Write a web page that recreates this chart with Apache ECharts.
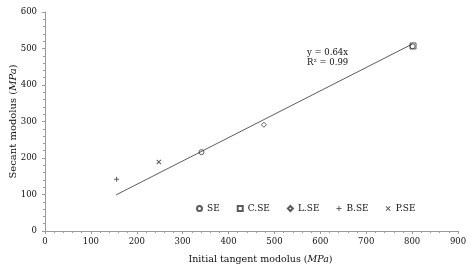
<!DOCTYPE html>
<html>
<head>
<meta charset="utf-8">
<script src="https://cdn.jsdelivr.net/npm/echarts@6/dist/echarts.min.js"></script>
<style>
  html, body { margin: 0; padding: 0; background: #fff; }
  #chart { width: 474px; height: 270px; }
</style>
</head>
<body>
<div id="chart"></div>
<script>
// data
var seData = [[341, 216], [801, 506]];
var cseData = [[802, 507]];
var lseData = [[477, 291]];
var bseData = [[156, 142]];
var pseData = [[248, 189]];
var trendData = [[155, 99], [800, 512]];

var fontFam = "DejaVu Serif";
var plusPath = "path://M4,0H6V4H10V6H6V10H4V6H0V4H4Z";
var crossPath = "path://M1.4,0L5,3.6L8.6,0L10,1.4L6.4,5L10,8.6L8.6,10L5,6.4L1.4,10L0,8.6L3.6,5L0,1.4Z";

var myChart = echarts.init(document.getElementById("chart"));

var options = {
  animation: false,
  textStyle: { fontFamily: fontFam },
  grid: { left: 45, right: 16, top: 12, bottom: 39, outerBoundsMode: "none" },
  legend: {
    left: 191,
    top: 199,
    itemWidth: 5,
    itemHeight: 5,
    itemGap: 17,
    textStyle: { fontSize: 9, color: "#111", fontFamily: fontFam },
    data: ["SE", "C.SE", "L.SE", "B.SE", "P.SE"],
  },
  graphic: [
    {
      type: "text",
      left: 307,
      top: 48,
      style: {
        text: "y = 0.64x\nR² = 0.99",
        fontSize: 8.5,
        lineHeight: 10,
        fill: "#111",
        fontFamily: fontFam,
      },
    },
  ],
  xAxis: {
    type: "value",
    min: 0,
    max: 900,
    interval: 100,
    name: "Initial tangent modolus ({i|MPa})",
    nameLocation: "middle",
    nameGap: 24,
    nameMoveOverlap: false,
    nameTextStyle: {
      fontSize: 9.5,
      color: "#111",
      padding: [0, 0, 0, 18],
      rich: { i: { fontSize: 9.5, fontStyle: "italic", color: "#111" } },
    },
    axisLine: { lineStyle: { color: "#999" } },
    axisTick: { show: true, length: 3, lineStyle: { color: "#999" } },
    minorTick: { show: true, splitNumber: 5, length: 2, lineStyle: { color: "#999" } },
    axisLabel: { fontSize: 8.5, color: "#111", margin: 6 },
    splitLine: { show: false },
  },
  yAxis: {
    type: "value",
    min: 0,
    max: 600,
    interval: 100,
    name: "Secant modolus ({i|MPa})",
    nameLocation: "middle",
    nameGap: 27,
    nameMoveOverlap: false,
    nameTextStyle: {
      fontSize: 10,
      color: "#111",
      rich: { i: { fontSize: 10, fontStyle: "italic", color: "#111" } },
    },
    axisLine: { show: true, lineStyle: { color: "#999" } },
    axisTick: { show: true, length: 3, lineStyle: { color: "#999" } },
    minorTick: { show: true, splitNumber: 5, length: 2, lineStyle: { color: "#999" } },
    axisLabel: { fontSize: 8.5, color: "#111", margin: 8 },
    splitLine: { show: false },
  },
  series: [
    {
      name: "trend",
      type: "line",
      data: trendData,
      symbol: "none",
      lineStyle: { color: "#333", width: 0.8 },
      silent: true,
    },
    {
      name: "SE",
      type: "scatter",
      data: seData,
      symbol: "circle",
      symbolSize: 5,
      itemStyle: { color: "#fff", borderColor: "#333", borderWidth: 1 },
    },
    {
      name: "C.SE",
      type: "scatter",
      data: cseData,
      symbol: "rect",
      symbolSize: 6,
      itemStyle: { color: "rgba(255,255,255,0)", borderColor: "#333", borderWidth: 1 },
    },
    {
      name: "L.SE",
      type: "scatter",
      data: lseData,
      symbol: "diamond",
      symbolSize: 5,
      itemStyle: { color: "#fff", borderColor: "#333", borderWidth: 1 },
    },
    {
      name: "B.SE",
      type: "scatter",
      data: bseData,
      symbol: plusPath,
      symbolSize: 5,
      itemStyle: { color: "#333" },
    },
    {
      name: "P.SE",
      type: "scatter",
      data: pseData,
      symbol: crossPath,
      symbolSize: 5,
      itemStyle: { color: "#333" },
    },
  ],
};

myChart.setOption(options);
</script>
</body>
</html>
